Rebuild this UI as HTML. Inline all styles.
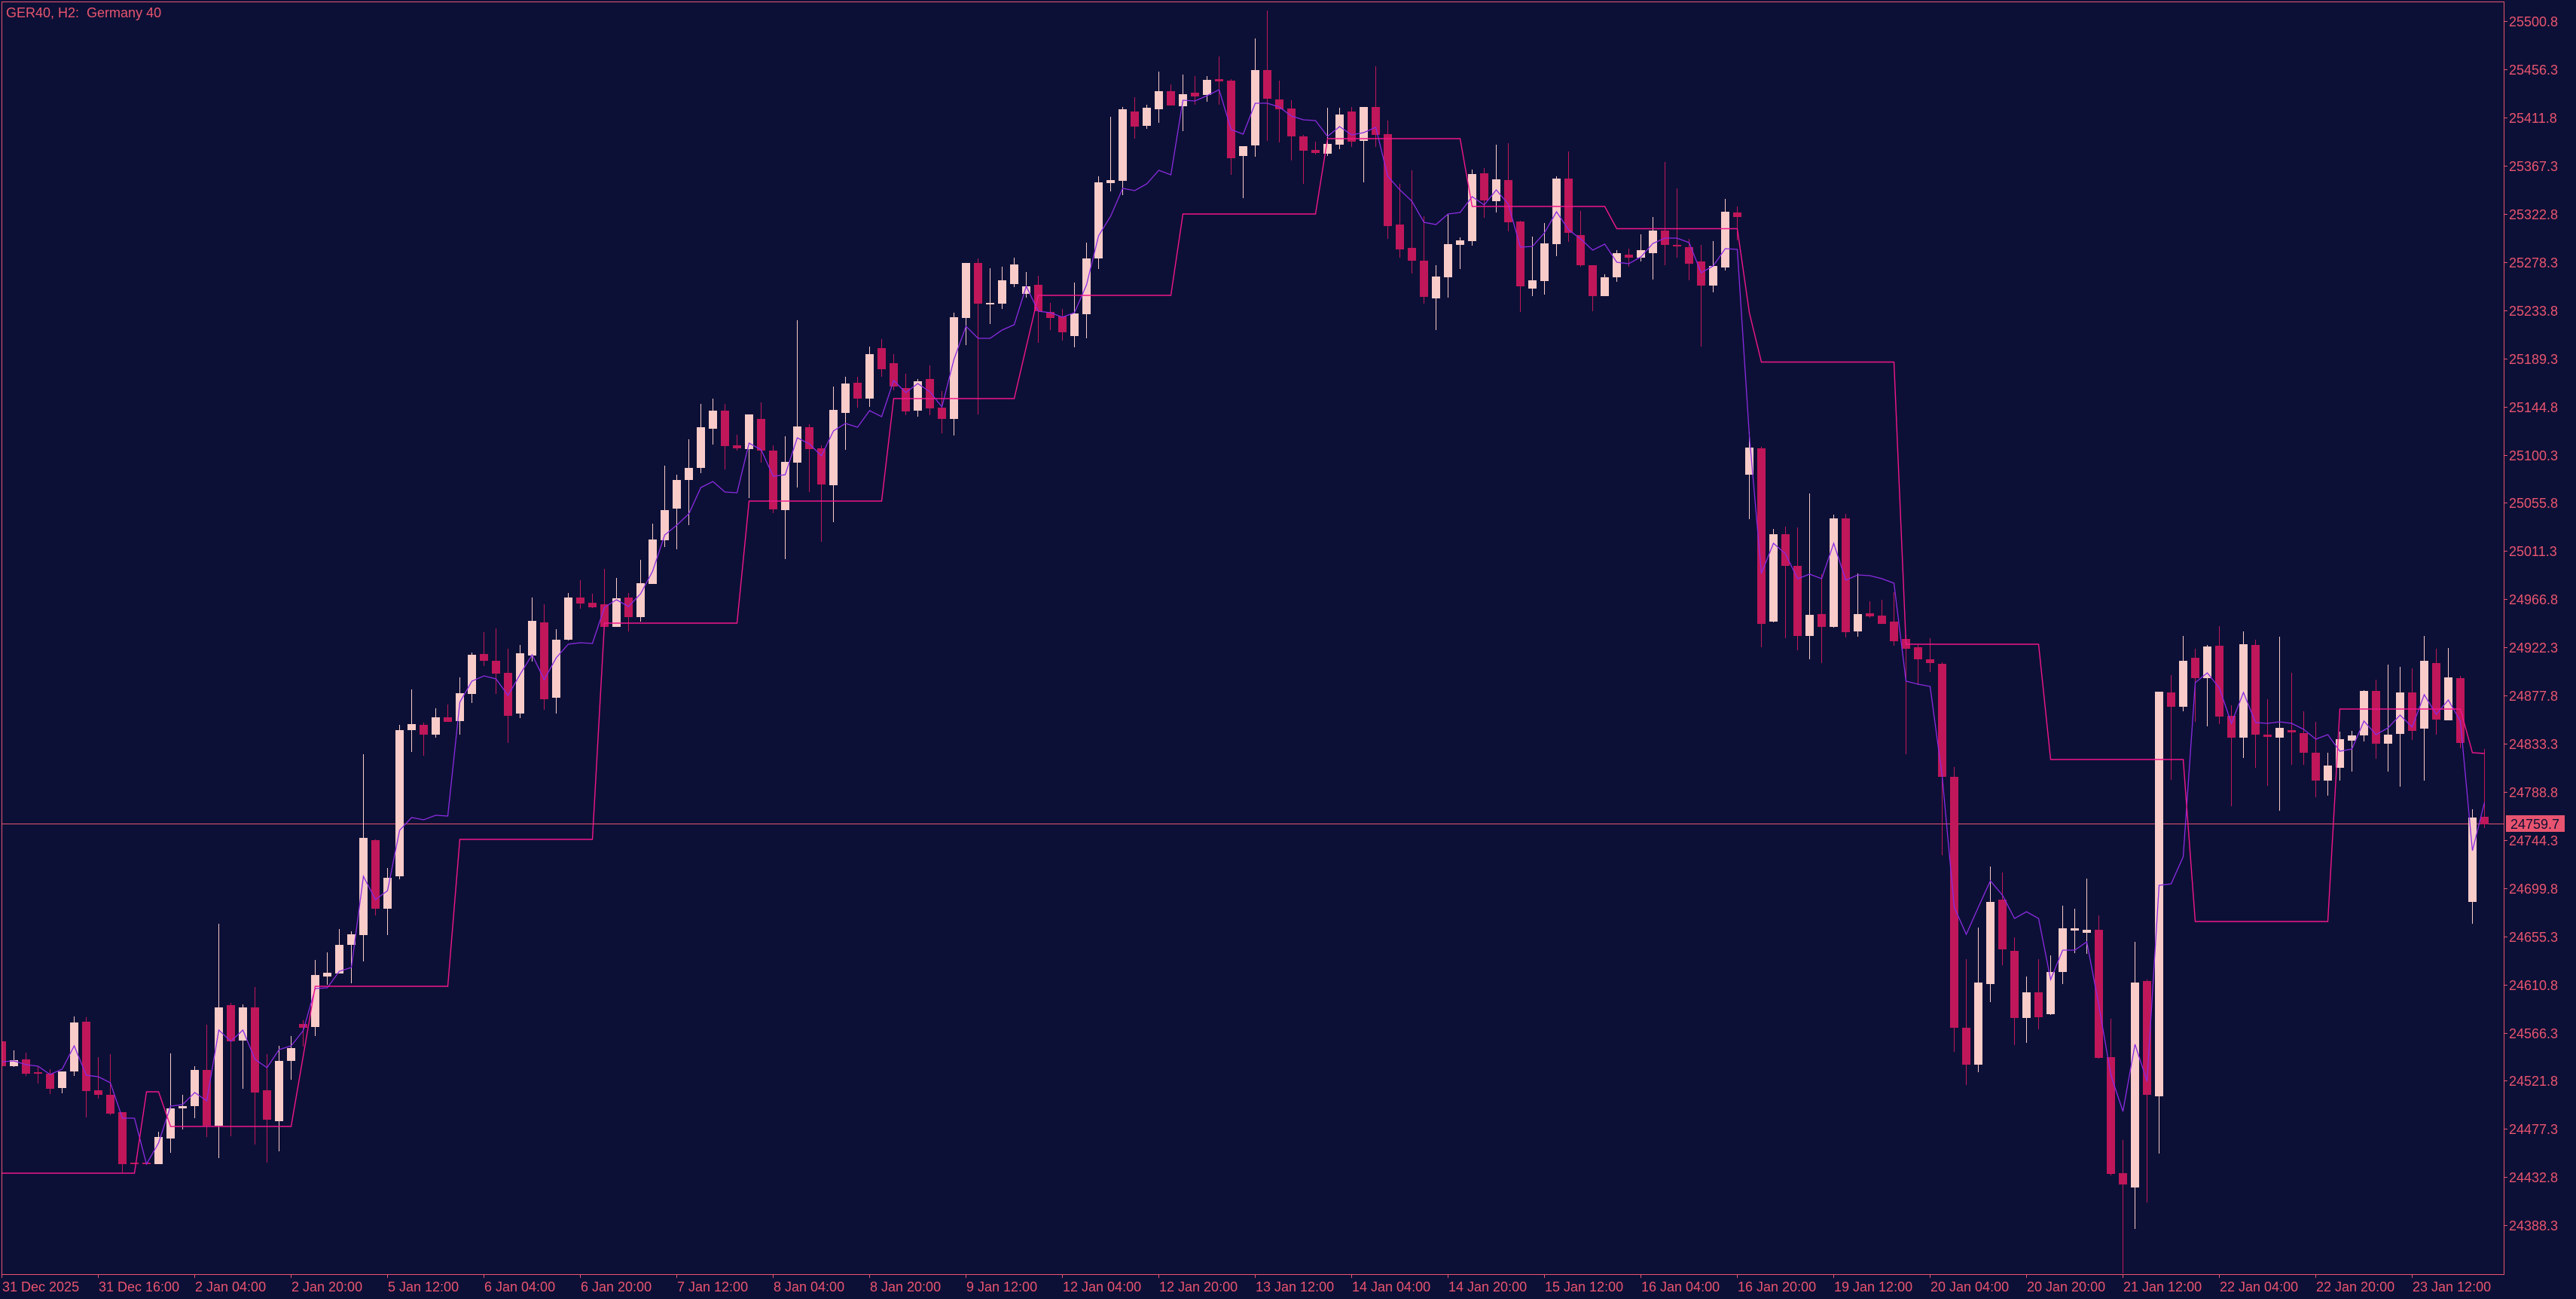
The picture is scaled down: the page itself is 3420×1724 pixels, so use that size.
<!DOCTYPE html>
<html><head><meta charset="utf-8"><style>html,body{margin:0;padding:0;background:#0d1036;width:3420px;height:1724px;overflow:hidden}</style></head>
<body>
<svg width="3420" height="1724" viewBox="0 0 3420 1724" xmlns="http://www.w3.org/2000/svg" font-family="'Liberation Sans', sans-serif">
<rect width="3420" height="1724" fill="#0d1036"/>
<defs><clipPath id="c"><rect x="3" y="3" width="3321" height="1688"/></clipPath></defs>
<g clip-path="url(#c)">
<path d="M3 1093.5H3324" stroke="#e8546f" stroke-width="1"/>
<path fill="#f9ccc9" d="M13 1407h11V1415h-11zM18 1394h1V1416h-1zM77 1422h11V1444h-11zM82 1422h1V1451h-1zM93 1357h11V1422h-11zM98 1349h1V1428h-1zM205 1509h11V1545h-11zM210 1502h1V1545h-1zM221 1471h11V1511h-11zM226 1398h1V1530h-1zM237 1468h11V1471h-11zM242 1453h1V1499h-1zM253 1420h11V1468h-11zM258 1415h1V1484h-1zM285 1337h11V1494h-11zM290 1226h1V1537h-1zM317 1337h11V1381h-11zM322 1333h1V1445h-1zM365 1408h11V1488h-11zM370 1388h1V1528h-1zM381 1391h11V1408h-11zM386 1375h1V1433h-1zM413 1294h11V1363h-11zM418 1274h1V1375h-1zM429 1291h11V1296h-11zM434 1264h1V1307h-1zM445 1254h11V1292h-11zM450 1233h1V1292h-1zM461 1240h11V1254h-11zM466 1236h1V1305h-1zM477 1112h11V1241h-11zM482 1001h1V1276h-1zM509 1165h11V1206h-11zM514 1152h1V1241h-1zM525 969h11V1163h-11zM530 962h1V1167h-1zM541 961h11V969h-11zM546 915h1V998h-1zM573 952h11V975h-11zM578 940h1V979h-1zM605 920h11V957h-11zM610 899h1V975h-1zM621 869h11V921h-11zM626 866h1V933h-1zM685 867h11V947h-11zM690 856h1V953h-1zM701 824h11V870h-11zM706 793h1V878h-1zM733 849h11V926h-11zM738 835h1V947h-1zM749 793h11V849h-11zM754 787h1V850h-1zM813 794h11V832h-11zM818 767h1V832h-1zM845 774h11V819h-11zM850 743h1V825h-1zM861 716h11V775h-11zM866 695h1V775h-1zM877 677h11V717h-11zM882 618h1V726h-1zM893 637h11V675h-11zM898 630h1V729h-1zM909 621h11V637h-11zM914 583h1V697h-1zM925 567h11V621h-11zM930 536h1V628h-1zM941 545h11V569h-11zM946 529h1V590h-1zM989 550h11V596h-11zM994 550h1V661h-1zM1037 613h11V677h-11zM1042 579h1V742h-1zM1053 566h11V614h-11zM1058 425h1V647h-1zM1101 544h11V644h-11zM1106 513h1V693h-1zM1117 509h11V548h-11zM1122 500h1V597h-1zM1149 470h11V529h-11zM1154 460h1V540h-1zM1213 506h11V545h-11zM1218 503h1V553h-1zM1261 421h11V556h-11zM1266 415h1V578h-1zM1277 349h11V422h-11zM1282 349h1V458h-1zM1309 402h11V404h-11zM1314 356h1V430h-1zM1325 372h11V403h-11zM1330 354h1V410h-1zM1341 351h11V377h-11zM1346 342h1V381h-1zM1357 380h11V390h-11zM1362 361h1V395h-1zM1421 416h11V446h-11zM1426 375h1V461h-1zM1437 343h11V417h-11zM1442 322h1V449h-1zM1453 242h11V343h-11zM1458 234h1V357h-1zM1469 239h11V243h-11zM1474 155h1V254h-1zM1485 145h11V240h-11zM1490 142h1V259h-1zM1517 143h11V167h-11zM1522 139h1V171h-1zM1533 121h11V145h-11zM1538 95h1V163h-1zM1565 125h11V141h-11zM1570 99h1V174h-1zM1597 106h11V126h-11zM1602 101h1V135h-1zM1645 194h11V207h-11zM1650 194h1V263h-1zM1661 93h11V193h-11zM1666 51h1V208h-1zM1757 191h11V204h-11zM1762 143h1V207h-1zM1773 152h11V192h-11zM1778 143h1V198h-1zM1805 142h11V187h-11zM1810 142h1V242h-1zM1901 367h11V396h-11zM1906 352h1V438h-1zM1917 324h11V368h-11zM1922 285h1V395h-1zM1933 319h11V325h-11zM1938 315h1V357h-1zM1949 231h11V320h-11zM1954 225h1V326h-1zM1981 238h11V267h-11zM1986 192h1V282h-1zM2029 372h11V383h-11zM2034 314h1V393h-1zM2045 323h11V373h-11zM2050 296h1V391h-1zM2061 237h11V324h-11zM2066 234h1V340h-1zM2125 368h11V393h-11zM2130 364h1V393h-1zM2141 336h11V368h-11zM2146 332h1V374h-1zM2173 332h11V342h-11zM2178 311h1V347h-1zM2189 306h11V336h-11zM2194 288h1V371h-1zM2269 353h11V379h-11zM2274 320h1V388h-1zM2285 281h11V355h-11zM2290 264h1V359h-1zM2317 594h11V630h-11zM2322 573h1V689h-1zM2349 709h11V825h-11zM2354 702h1V826h-1zM2397 816h11V844h-11zM2402 655h1V875h-1zM2429 688h11V832h-11zM2434 683h1V833h-1zM2461 815h11V838h-11zM2466 761h1V845h-1zM2621 1304h11V1413h-11zM2626 1231h1V1423h-1zM2637 1197h11V1306h-11zM2642 1150h1V1330h-1zM2685 1317h11V1351h-11zM2690 1296h1V1384h-1zM2717 1290h11V1346h-11zM2722 1268h1V1347h-1zM2733 1232h11V1290h-11zM2738 1202h1V1306h-1zM2749 1232h11V1235h-11zM2754 1206h1V1265h-1zM2765 1234h11V1238h-11zM2770 1166h1V1266h-1zM2829 1304h11V1576h-11zM2834 1250h1V1631h-1zM2861 918h11V1455h-11zM2866 918h1V1531h-1zM2893 877h11V938h-11zM2898 844h1V944h-1zM2925 858h11V900h-11zM2930 856h1V964h-1zM2973 855h11V979h-11zM2978 838h1V1006h-1zM3021 966h11V979h-11zM3026 845h1V1076h-1zM3085 1016h11V1036h-11zM3090 999h1V1056h-1zM3101 981h11V1019h-11zM3106 971h1V1036h-1zM3117 976h11V983h-11zM3122 970h1V1024h-1zM3133 917h11V976h-11zM3138 916h1V984h-1zM3165 975h11V987h-11zM3170 882h1V1024h-1zM3181 919h11V974h-11zM3186 885h1V1044h-1zM3213 877h11V967h-11zM3218 844h1V1036h-1zM3245 899h11V956h-11zM3250 860h1V956h-1zM3277 1085h11V1197h-11zM3282 1074h1V1226h-1z"/>
<path fill="#c0175a" d="M-3 1382h11V1415h-11zM2 1380h1V1417h-1zM29 1406h11V1425h-11zM34 1397h1V1428h-1zM45 1423h11V1425h-11zM50 1416h1V1438h-1zM61 1425h11V1445h-11zM66 1419h1V1452h-1zM109 1356h11V1448h-11zM114 1350h1V1483h-1zM125 1447h11V1453h-11zM130 1403h1V1458h-1zM141 1453h11V1478h-11zM146 1399h1V1480h-1zM157 1476h11V1545h-11zM162 1476h1V1556h-1zM173 1543h11V1545h-11zM189 1543h11V1545h-11zM269 1420h11V1494h-11zM274 1360h1V1509h-1zM301 1334h11V1382h-11zM306 1331h1V1508h-1zM333 1337h11V1450h-11zM338 1310h1V1519h-1zM349 1447h11V1486h-11zM354 1399h1V1543h-1zM397 1359h11V1364h-11zM402 1354h1V1389h-1zM493 1115h11V1206h-11zM498 1114h1V1215h-1zM557 962h11V975h-11zM562 959h1V1003h-1zM589 952h11V958h-11zM594 935h1V958h-1zM637 868h11V877h-11zM642 839h1V884h-1zM653 877h11V894h-11zM658 834h1V921h-1zM669 893h11V950h-11zM674 861h1V986h-1zM717 826h11V928h-11zM722 802h1V942h-1zM765 793h11V801h-11zM770 770h1V808h-1zM781 800h11V806h-11zM786 788h1V807h-1zM797 802h11V832h-11zM802 755h1V832h-1zM829 793h11V819h-11zM834 787h1V838h-1zM957 545h11V592h-11zM962 536h1V623h-1zM973 591h11V595h-11zM978 577h1V598h-1zM1005 556h11V598h-11zM1010 534h1V614h-1zM1021 598h11V676h-11zM1026 591h1V681h-1zM1069 567h11V596h-11zM1074 563h1V653h-1zM1085 595h11V643h-11zM1090 591h1V719h-1zM1133 508h11V529h-11zM1138 500h1V541h-1zM1165 462h11V490h-11zM1170 450h1V500h-1zM1181 482h11V513h-11zM1186 470h1V518h-1zM1197 515h11V546h-11zM1202 496h1V551h-1zM1229 503h11V542h-11zM1234 485h1V551h-1zM1245 541h11V556h-11zM1250 519h1V575h-1zM1293 349h11V403h-11zM1298 343h1V550h-1zM1373 378h11V413h-11zM1378 366h1V455h-1zM1389 414h11V422h-11zM1394 402h1V438h-1zM1405 420h11V441h-11zM1410 410h1V452h-1zM1501 148h11V168h-11zM1506 129h1V184h-1zM1549 121h11V140h-11zM1554 112h1V140h-1zM1581 123h11V128h-11zM1586 101h1V139h-1zM1613 105h11V108h-11zM1618 75h1V139h-1zM1629 107h11V210h-11zM1634 105h1V232h-1zM1677 93h11V131h-11zM1682 14h1V187h-1zM1693 132h11V145h-11zM1698 107h1V189h-1zM1709 144h11V181h-11zM1714 133h1V213h-1zM1725 181h11V200h-11zM1730 179h1V244h-1zM1741 199h11V203h-11zM1746 188h1V205h-1zM1789 148h11V188h-11zM1794 142h1V195h-1zM1821 142h11V179h-11zM1826 88h1V195h-1zM1837 178h11V300h-11zM1842 160h1V317h-1zM1853 298h11V331h-11zM1858 244h1V342h-1zM1869 329h11V346h-11zM1874 226h1V363h-1zM1885 346h11V394h-11zM1890 287h1V403h-1zM1965 230h11V266h-11zM1970 223h1V289h-1zM1997 239h11V295h-11zM2002 190h1V307h-1zM2013 294h11V380h-11zM2018 293h1V414h-1zM2077 237h11V309h-11zM2082 201h1V321h-1zM2093 312h11V352h-11zM2098 280h1V354h-1zM2109 352h11V393h-11zM2114 352h1V413h-1zM2157 338h11V342h-11zM2162 330h1V354h-1zM2205 306h11V325h-11zM2210 215h1V352h-1zM2221 325h11V327h-11zM2226 250h1V342h-1zM2237 328h11V350h-11zM2242 317h1V372h-1zM2253 347h11V379h-11zM2258 325h1V460h-1zM2301 282h11V288h-11zM2306 274h1V319h-1zM2333 595h11V828h-11zM2338 593h1V859h-1zM2365 709h11V751h-11zM2370 699h1V847h-1zM2381 751h11V844h-11zM2386 700h1V863h-1zM2413 815h11V832h-11zM2418 762h1V880h-1zM2445 688h11V839h-11zM2450 682h1V846h-1zM2477 814h11V818h-11zM2482 798h1V820h-1zM2493 817h11V828h-11zM2498 796h1V828h-1zM2509 825h11V851h-11zM2514 786h1V857h-1zM2525 848h11V861h-11zM2530 843h1V1001h-1zM2541 859h11V875h-11zM2546 855h1V909h-1zM2557 875h11V880h-11zM2562 847h1V892h-1zM2573 881h11V1031h-11zM2578 879h1V1135h-1zM2589 1031h11V1364h-11zM2594 1018h1V1396h-1zM2605 1364h11V1413h-11zM2610 1273h1V1440h-1zM2653 1194h11V1260h-11zM2658 1158h1V1281h-1zM2669 1262h11V1351h-11zM2674 1244h1V1387h-1zM2701 1317h11V1350h-11zM2706 1273h1V1366h-1zM2781 1234h11V1404h-11zM2786 1215h1V1405h-1zM2797 1403h11V1558h-11zM2802 1352h1V1560h-1zM2813 1557h11V1572h-11zM2818 1513h1V1690h-1zM2845 1302h11V1453h-11zM2850 1300h1V1596h-1zM2877 919h11V938h-11zM2882 896h1V1035h-1zM2909 873h11V900h-11zM2914 861h1V958h-1zM2941 857h11V951h-11zM2946 831h1V961h-1zM2957 950h11V979h-11zM2962 936h1V1070h-1zM2989 856h11V975h-11zM2994 849h1V1019h-1zM3005 975h11V978h-11zM3010 928h1V1043h-1zM3037 969h11V972h-11zM3042 893h1V1015h-1zM3053 973h11V999h-11zM3058 944h1V1015h-1zM3069 999h11V1036h-11zM3074 958h1V1058h-1zM3149 917h11V987h-11zM3154 902h1V1007h-1zM3197 919h11V970h-11zM3202 887h1V982h-1zM3229 880h11V955h-11zM3234 861h1V975h-1zM3261 900h11V986h-11zM3266 897h1V993h-1zM3293 1084h11V1094h-11zM3298 994h1V1099h-1z"/>
<polyline fill="none" stroke="#8a2be2" stroke-width="1.3" points="2.5,1409 18.5,1408 34.5,1413 50.5,1415 66.5,1426 82.5,1419 98.5,1388 114.5,1427 130.5,1429 146.5,1437 162.5,1484 178.5,1484 194.5,1545 210.5,1517 226.5,1468 242.5,1466 258.5,1450 274.5,1461 290.5,1367 306.5,1382 322.5,1367 338.5,1406 354.5,1417 370.5,1393 386.5,1388 402.5,1368 418.5,1312 434.5,1311 450.5,1289 466.5,1284 482.5,1163 498.5,1194 514.5,1182 530.5,1102 546.5,1085 562.5,1088 578.5,1082 594.5,1083 610.5,932 626.5,904 642.5,897 658.5,901 674.5,923 690.5,895 706.5,869 722.5,902 738.5,873 754.5,855 770.5,853 786.5,854 802.5,806 818.5,796 834.5,805 850.5,788 866.5,758 882.5,710 898.5,697 914.5,682 930.5,647 946.5,639 962.5,653 978.5,654 994.5,588 1010.5,597 1026.5,632 1042.5,630 1058.5,581 1074.5,589 1090.5,605 1106.5,572 1122.5,562 1138.5,567 1154.5,545 1170.5,553 1186.5,505 1202.5,521 1218.5,509 1234.5,520 1250.5,540 1266.5,477 1282.5,433 1298.5,449 1314.5,449 1330.5,438 1346.5,431 1362.5,380 1378.5,413 1394.5,415 1410.5,421 1426.5,415 1442.5,378 1458.5,313 1474.5,287 1490.5,250 1506.5,253 1522.5,244 1538.5,226 1554.5,232 1570.5,133 1586.5,134 1602.5,127 1618.5,119 1634.5,172 1650.5,178 1666.5,137 1682.5,137 1698.5,142 1714.5,154 1730.5,159 1746.5,160 1762.5,181 1778.5,168 1794.5,179 1810.5,176 1826.5,169 1842.5,234 1858.5,252 1874.5,267 1890.5,295 1906.5,298 1922.5,284 1938.5,282 1954.5,261 1970.5,272 1986.5,252 2002.5,271 2018.5,328 2034.5,327 2050.5,309 2066.5,281 2082.5,305 2098.5,317 2114.5,332 2130.5,324 2146.5,348 2162.5,350 2178.5,341 2194.5,323 2210.5,316 2226.5,316 2242.5,322 2258.5,362 2274.5,353 2290.5,330 2306.5,331 2322.5,578 2338.5,761 2354.5,721 2370.5,735 2386.5,768 2402.5,762 2418.5,768 2434.5,721 2450.5,770 2466.5,763 2482.5,764 2498.5,768 2514.5,774 2530.5,904 2546.5,908 2562.5,911 2578.5,1030 2594.5,1204 2610.5,1240 2626.5,1204 2642.5,1169 2658.5,1188 2674.5,1219 2690.5,1210 2706.5,1219 2722.5,1300 2738.5,1261 2754.5,1261 2770.5,1250 2786.5,1334 2802.5,1427 2818.5,1475 2834.5,1386 2850.5,1435 2866.5,1175 2882.5,1173 2898.5,1137 2914.5,906 2930.5,893 2946.5,913 2962.5,960 2978.5,919 2994.5,959 3010.5,960 3026.5,958 3042.5,960 3058.5,968 3074.5,981 3090.5,975 3106.5,997 3122.5,994 3138.5,957 3154.5,975 3170.5,966 3186.5,949 3202.5,965 3218.5,922 3234.5,948 3250.5,929 3266.5,957 3282.5,1129 3298.5,1065"/>
<polyline fill="none" stroke="#f0168c" stroke-width="1.4" points="2.5,1557 178.5,1557 194.5,1449 210.5,1449 226.5,1495 386.5,1495 418.5,1309 594.5,1309 610.5,1114 786.5,1114 802.5,827 978.5,827 994.5,665 1170.5,665 1186.5,529 1346.5,529 1378.5,392 1554.5,392 1570.5,284 1746.5,284 1762.5,184 1938.5,184 1954.5,274 2130.5,274 2146.5,303.5 2306.5,303.5 2322.5,415 2338.5,480.5 2514.5,480.5 2530.5,855 2706.5,855 2722.5,1008 2898.5,1008 2914.5,1223 3090.5,1223 3106.5,941 3266.5,941 3282.5,999 3298.5,1000"/>
</g>
<path d="M2.5 2.5H3324.5V1691.5H2.5Z" fill="none" stroke="#e8546f" stroke-width="1"/>
<path stroke="#e8546f" stroke-width="1" d="M3324 28.5h5M3324 92.5h5M3324 156.5h5M3324 220.5h5M3324 284.5h5M3324 348.5h5M3324 412.5h5M3324 476.5h5M3324 540.5h5M3324 604.5h5M3324 667.5h5M3324 731.5h5M3324 795.5h5M3324 859.5h5M3324 923.5h5M3324 987.5h5M3324 1051.5h5M3324 1115.5h5M3324 1179.5h5M3324 1243.5h5M3324 1307.5h5M3324 1371.5h5M3324 1434.5h5M3324 1498.5h5M3324 1562.5h5M3324 1626.5h5M2.5 1692v4M130.5 1692v4M258.5 1692v4M386.5 1692v4M514.5 1692v4M642.5 1692v4M770.5 1692v4M898.5 1692v4M1026.5 1692v4M1154.5 1692v4M1282.5 1692v4M1410.5 1692v4M1538.5 1692v4M1666.5 1692v4M1794.5 1692v4M1922.5 1692v4M2050.5 1692v4M2178.5 1692v4M2306.5 1692v4M2434.5 1692v4M2562.5 1692v4M2690.5 1692v4M2818.5 1692v4M2946.5 1692v4M3074.5 1692v4M3202.5 1692v4"/>
<g fill="#e8546f" font-size="18">
<text x="8" y="23" xml:space="preserve">GER40, H2:  Germany 40</text>
<text x="3331" y="35">25500.8</text>
<text x="3331" y="99">25456.3</text>
<text x="3331" y="163">25411.8</text>
<text x="3331" y="227">25367.3</text>
<text x="3331" y="291">25322.8</text>
<text x="3331" y="355">25278.3</text>
<text x="3331" y="419">25233.8</text>
<text x="3331" y="483">25189.3</text>
<text x="3331" y="547">25144.8</text>
<text x="3331" y="611">25100.3</text>
<text x="3331" y="674">25055.8</text>
<text x="3331" y="738">25011.3</text>
<text x="3331" y="802">24966.8</text>
<text x="3331" y="866">24922.3</text>
<text x="3331" y="930">24877.8</text>
<text x="3331" y="994">24833.3</text>
<text x="3331" y="1058">24788.8</text>
<text x="3331" y="1122">24744.3</text>
<text x="3331" y="1186">24699.8</text>
<text x="3331" y="1250">24655.3</text>
<text x="3331" y="1314">24610.8</text>
<text x="3331" y="1378">24566.3</text>
<text x="3331" y="1441">24521.8</text>
<text x="3331" y="1505">24477.3</text>
<text x="3331" y="1569">24432.8</text>
<text x="3331" y="1633">24388.3</text>
<text x="3" y="1714">31 Dec 2025</text>
<text x="131" y="1714">31 Dec 16:00</text>
<text x="259" y="1714">2 Jan 04:00</text>
<text x="387" y="1714">2 Jan 20:00</text>
<text x="515" y="1714">5 Jan 12:00</text>
<text x="643" y="1714">6 Jan 04:00</text>
<text x="771" y="1714">6 Jan 20:00</text>
<text x="899" y="1714">7 Jan 12:00</text>
<text x="1027" y="1714">8 Jan 04:00</text>
<text x="1155" y="1714">8 Jan 20:00</text>
<text x="1283" y="1714">9 Jan 12:00</text>
<text x="1411" y="1714">12 Jan 04:00</text>
<text x="1539" y="1714">12 Jan 20:00</text>
<text x="1667" y="1714">13 Jan 12:00</text>
<text x="1795" y="1714">14 Jan 04:00</text>
<text x="1923" y="1714">14 Jan 20:00</text>
<text x="2051" y="1714">15 Jan 12:00</text>
<text x="2179" y="1714">16 Jan 04:00</text>
<text x="2307" y="1714">16 Jan 20:00</text>
<text x="2435" y="1714">19 Jan 12:00</text>
<text x="2563" y="1714">20 Jan 04:00</text>
<text x="2691" y="1714">20 Jan 20:00</text>
<text x="2819" y="1714">21 Jan 12:00</text>
<text x="2947" y="1714">22 Jan 04:00</text>
<text x="3075" y="1714">22 Jan 20:00</text>
<text x="3203" y="1714">23 Jan 12:00</text>
</g>
<rect x="3327" y="1082" width="78" height="22" fill="#e8546f"/>
<text x="3333" y="1100" font-size="18" fill="#0d1036">24759.7</text>
</svg>
</body></html>
